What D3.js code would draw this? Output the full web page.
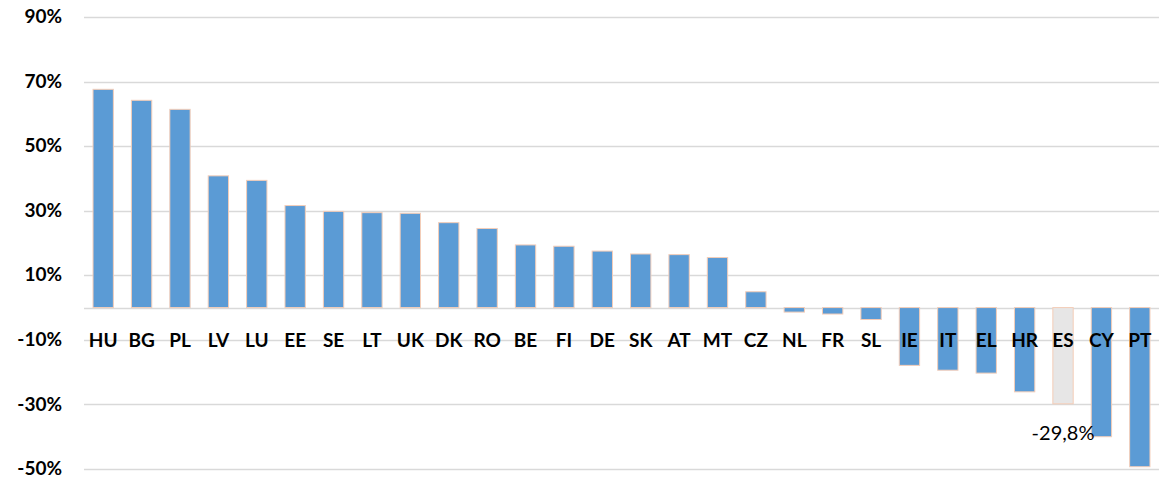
<!DOCTYPE html>
<html>
<head>
<meta charset="utf-8">
<script src="https://cdn.jsdelivr.net/npm/d3@7"></script>
<style>
  html, body { margin: 0; padding: 0; background: #fff; }
  svg { display: block; }
</style>
</head>
<body>
<svg id="chart" width="1159" height="478"></svg>
<script>
const categories = ["HU","BG","PL","LV","LU","EE","SE","LT","UK","DK","RO","BE","FI","DE","SK","AT","MT","CZ","NL","FR","SL","IE","IT","EL","HR","ES","CY","PT"];
const values = [67.6, 64.2, 61.4, 40.8, 39.4, 31.6, 29.8, 29.4, 29.2, 26.3, 24.5, 19.4, 19.0, 17.5, 16.6, 16.4, 15.5, 4.9, -1.4, -2.0, -3.7, -17.9, -19.4, -20.3, -26.1, -29.8, -40.0, -49.3];
const yTicks = [-50, -30, -10, 10, 30, 50, 70, 90];
const highlight = "ES";
const highlightLabel = "-29,8%";

const svg = d3.select("#chart");
const plotLeft = 84, plotRight = 1159, plotTop = 17, plotBottom = 469;

const x = d3.scaleBand().domain(categories).range([plotLeft, plotRight]).paddingInner(0.47).paddingOuter(0.235);
const y = d3.scaleLinear().domain([-50, 90]).range([plotBottom, plotTop]);

// gridlines
svg.append("g").selectAll("line").data(yTicks.concat([0])).join("line")
  .attr("x1", plotLeft).attr("x2", plotRight)
  .attr("y1", d => Math.round(y(d)) + 0.5).attr("y2", d => Math.round(y(d)) + 0.5)
  .attr("stroke", "#d9d9d9").attr("stroke-width", 1.5);

// y tick labels
const yAxis = d3.axisLeft(y).tickValues(yTicks).tickSize(0).tickPadding(0).tickFormat(d => d + "%");
const ya = svg.append("g").attr("transform", "translate(62,0)").call(yAxis);
ya.select(".domain").remove();
ya.selectAll("text")
  .attr("dy", "0.3em")
  .attr("font-family", "Lato, 'Open Sans', sans-serif")
  .attr("font-weight", "bold").attr("font-size", 19).attr("fill", "#000");

// bars
const data = categories.map((c, i) => ({ c, v: values[i] }));
svg.append("g").selectAll("rect").data(data).join("rect")
  .attr("x", d => x(d.c))
  .attr("width", x.bandwidth())
  .attr("y", d => y(Math.max(0, d.v)))
  .attr("height", d => Math.abs(y(d.v) - y(0)))
  .attr("fill", d => d.c === highlight ? "#e7e6e6" : "#5b9bd5")
  .attr("stroke", "#f4cdb8").attr("stroke-width", 1);

// category labels
const xAxis = d3.axisBottom(x).tickSize(0).tickPadding(0);
const xa = svg.append("g").attr("transform", `translate(0,${y(0) + 39})`).call(xAxis);
xa.select(".domain").remove();
xa.selectAll("text")
  .attr("dy", 0)
  .attr("font-family", "Lato, 'Open Sans', sans-serif")
  .attr("font-weight", "bold").attr("font-size", 19).attr("fill", "#000");

// data label for highlight
const hi = categories.indexOf(highlight);
svg.append("text")
  .attr("x", x(highlight) + x.bandwidth() / 2)
  .attr("y", y(values[hi]) + 36)
  .attr("text-anchor", "middle")
  .attr("font-family", "Lato, 'Open Sans', sans-serif")
  .attr("font-size", 20).attr("fill", "#000")
  .text(highlightLabel);
</script>
</body>
</html>
